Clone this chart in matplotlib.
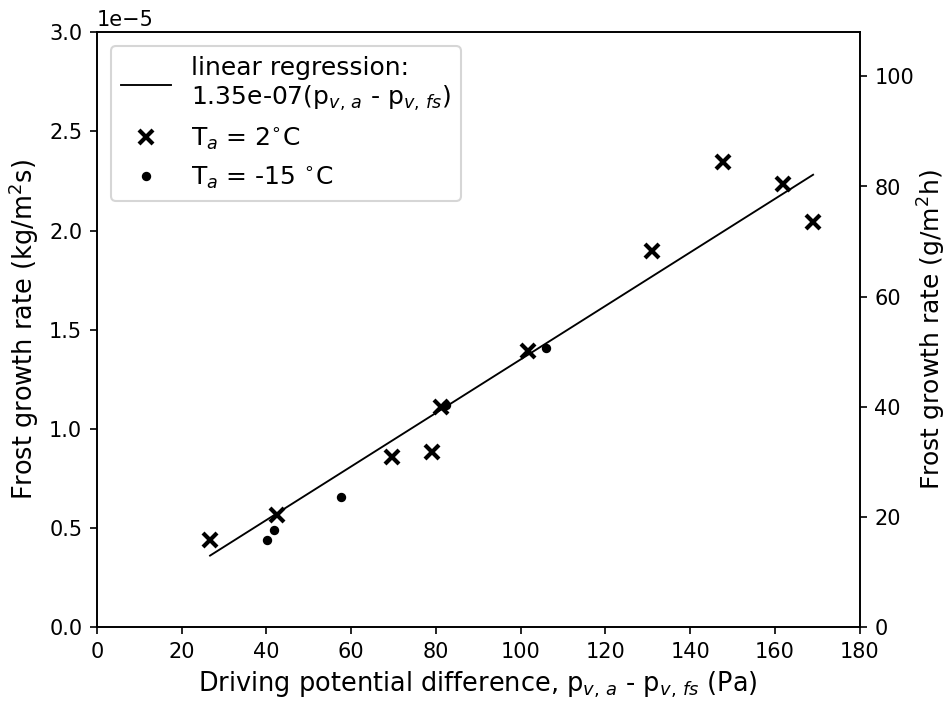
import numpy as np
import matplotlib
matplotlib.use("Agg")
import matplotlib.pyplot as plt

# T_a = 2 C
dp_warm = [26.7, 42.5, 69.6, 79.0, 81.2, 101.7, 130.9, 147.7, 161.8, 169.0]
rate_warm = [0.44e-5, 0.565e-5, 0.86e-5, 0.885e-5, 1.11e-5, 1.39e-5, 1.895e-5, 2.345e-5, 2.235e-5, 2.045e-5]

# T_a = -15 C
dp_cold = [40.1, 41.8, 57.6, 82.3, 105.9]
rate_cold = [0.44e-5, 0.49e-5, 0.655e-5, 1.12e-5, 1.41e-5]

slope = 1.35e-07

fig = plt.figure(figsize=(6.333, 4.687), dpi=150)
ax = fig.add_axes([0.102, 0.108, 0.803, 0.846])

all_dp = np.array(dp_warm + dp_cold)
xl = np.array([all_dp.min(), all_dp.max()])
ax.plot(xl, slope * xl, color="black", lw=0.9,
        label="linear regression:\n1.35e-07(p$_{v,\\,a}$ - p$_{v,\\,fs}$)")
ax.plot(dp_warm, rate_warm, "x", color="black", ms=7, mew=2,
        label="T$_a$ = 2$^{\\circ}$C")
ax.plot(dp_cold, rate_cold, "o", color="black", ms=3.5,
        label="T$_a$ = -15 $^{\\circ}$C")

ax.set_xlim(0, 180)
ax.set_ylim(0, 3e-5)
ax.set_xticks(np.arange(0, 181, 20))
ax.set_xlabel("Driving potential difference, p$_{v,\\,a}$ - p$_{v,\\,fs}$ (Pa)", fontsize=12.3)
ax.set_ylabel("Frost growth rate (kg/m$^2$s)", fontsize=12.3)
ax.legend(loc="upper left", fontsize=12, borderaxespad=0.55)

ax2 = ax.twinx()
ax2.set_ylim(0, 3e-5 * 3.6e6)
ax2.set_yticks(np.arange(0, 101, 20))
ax2.set_ylabel("Frost growth rate (g/m$^2$h)", fontsize=12, labelpad=1)

fig.savefig("out.png", dpi=150)
